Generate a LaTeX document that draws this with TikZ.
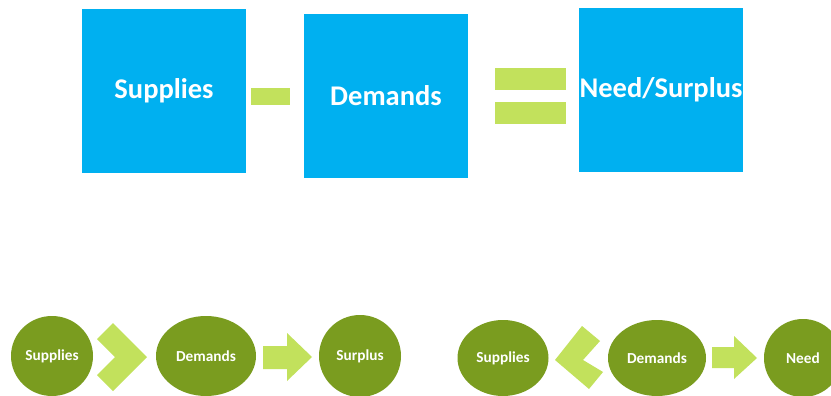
\documentclass[tikz,border=0pt]{standalone}
\usepackage{fontspec}
\setmainfont{Carlito}
\usetikzlibrary{shapes.geometric}

\definecolor{boxblue}{HTML}{00B0F0}
\definecolor{olivegreen}{HTML}{7A9C1F}
\definecolor{limegreen}{HTML}{C2E15C}

\begin{document}
\begin{tikzpicture}[x=1pt, y=-1pt,
    bluebox/.style={fill=boxblue, minimum width=164pt, minimum height=164pt, inner sep=0pt,
      text=white, font=\fontsize{28.5}{31}\selectfont\bfseries},
    ball/.style={ellipse, fill=olivegreen, inner sep=0pt,
      text=white, font=\fontsize{15.3}{18}\selectfont\bfseries},
    lime/.style={fill=limegreen}]
      \useasboundingbox (0,0) rectangle (831,396);
      \clip (0,0) rectangle (831,396);
      \fill[white] (0,0) rectangle (831,396);

      % top row: supplies - demands = need/surplus
      \node[bluebox] (supBox) at (164,91) {Supplies};
      \node[bluebox] (demBox) at (386,96) {Demands};
      \node[bluebox] (resBox) at (661,90) {Need/Surplus};
      \fill[lime] (251,88) rectangle (290,105);
      \fill[lime] (495,68) rectangle (566,90);
      \fill[lime] (495,102) rectangle (566,124);

      % bottom left: surplus
      \node[ball, minimum width=82pt, minimum height=80pt] (supA) at (52,356) {Supplies};
      \node[ball, minimum width=100pt, minimum height=80pt] (demA) at (206,356) {Demands};
      \node[ball, minimum width=82pt, minimum height=82pt] (surA) at (360,356) {Surplus};
      \fill[lime] (97,339) -- (113,323) -- (147,357) -- (113,391) -- (97,375) -- (115,357) -- cycle;
      \fill[lime] (263,346) -- (287,346) -- (287,333) -- (312,357) -- (287,381) -- (287,369) -- (263,369) -- cycle;

      % bottom right: need
      \node[ball, minimum width=91pt, minimum height=76pt] (supB) at (503,358) {Supplies};
      \node[ball, minimum width=98pt, minimum height=76pt] (demB) at (657,358) {Demands};
      \node[ball, minimum width=78pt, minimum height=78pt] (needB) at (803,358) {Need};
      \fill[lime] (555,360) -- (582,326) -- (600,341) -- (583,360) -- (603,372) -- (589,389) -- cycle;
      \fill[lime] (712,347) -- (734,347) -- (734,336) -- (757,358) -- (734,379) -- (734,368) -- (712,368) -- cycle;
\end{tikzpicture}
\end{document}
